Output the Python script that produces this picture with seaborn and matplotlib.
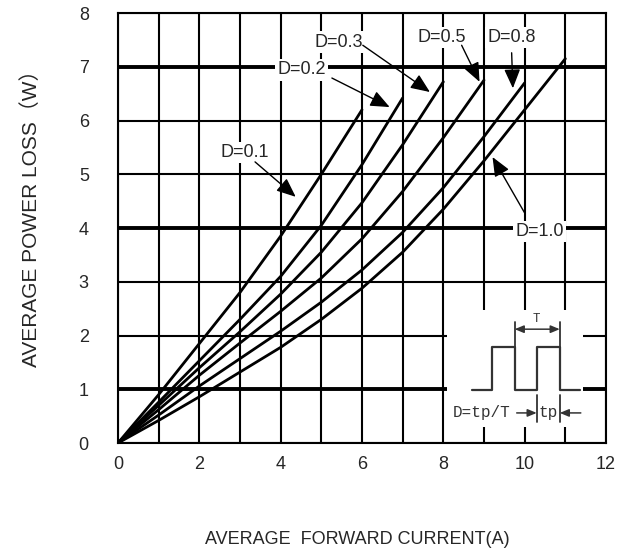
import matplotlib
matplotlib.use("Agg")
import matplotlib.pyplot as plt
import seaborn as sns
import pandas as pd

# ---------------- data ----------------
duty_labels = ["D=0.1", "D=0.2", "D=0.3", "D=0.5", "D=0.8", "D=1.0"]

current_d01 = [0, 1, 2, 3, 4, 5, 6]
loss_d01 = [0, 0.90, 1.85, 2.80, 3.85, 5.00, 6.20]

current_d02 = [0, 1, 2, 3, 4, 5, 6, 7]
loss_d02 = [0, 0.76, 1.53, 2.30, 3.10, 4.05, 5.18, 6.42]

current_d03 = [0, 1, 2, 3, 4, 5, 6, 7, 8]
loss_d03 = [0, 0.70, 1.40, 2.07, 2.77, 3.55, 4.47, 5.55, 6.72]

current_d05 = [0, 1, 2, 3, 4, 5, 6, 7, 8, 9]
loss_d05 = [0, 0.62, 1.26, 1.86, 2.45, 3.07, 3.80, 4.68, 5.68, 6.75]

current_d08 = [0, 1, 2, 3, 4, 5, 6, 7, 8, 9, 10]
loss_d08 = [0, 0.52, 1.06, 1.57, 2.08, 2.62, 3.22, 3.92, 4.75, 5.70, 6.70]

current_d10 = [0, 1, 2, 3, 4, 5, 6, 7, 8, 9, 10, 11]
loss_d10 = [0, 0.42, 0.86, 1.32, 1.78, 2.30, 2.88, 3.55, 4.35, 5.25, 6.20, 7.15]

x_ticks = [0, 1, 2, 3, 4, 5, 6, 7, 8, 9, 10, 11, 12]
x_tick_labels = ["0", "", "2", "", "4", "", "6", "", "8", "", "10", "", "12"]
y_ticks = [0, 1, 2, 3, 4, 5, 6, 7, 8]
y_tick_labels = ["0", "1", "2", "3", "4", "5", "6", "7", "8"]
bold_rows = [1, 4, 7]

x_label = "AVERAGE  FORWARD CURRENT(A)"
y_label = "AVERAGE POWER LOSS（W）"

# ---------------- table for seaborn ----------------
series = [
    (duty_labels[0], current_d01, loss_d01),
    (duty_labels[1], current_d02, loss_d02),
    (duty_labels[2], current_d03, loss_d03),
    (duty_labels[3], current_d05, loss_d05),
    (duty_labels[4], current_d08, loss_d08),
    (duty_labels[5], current_d10, loss_d10),
]
rows = []
for name, xs, ys in series:
    for xv, yv in zip(xs, ys):
        rows.append({"duty": name, "current": xv, "loss": yv})
df = pd.DataFrame(rows)

# ---------------- style ----------------
sns.set_style("white")
plt.rcParams["font.family"] = ["Liberation Sans", "Noto Sans CJK SC", "DejaVu Sans"]

fig = plt.figure(figsize=(6.23, 5.51), dpi=100)
ax = fig.add_axes([0.1894, 0.196, 0.7833, 0.7804])

sns.lineplot(data=df, x="current", y="loss", hue="duty",
             palette={d: "black" for d in duty_labels},
             legend=False, linewidth=2.0, ax=ax, zorder=3, sort=True,
             estimator=None)

ax.set_xlim(0, 12)
ax.set_ylim(0, 8)
ax.set_xticks(x_ticks)
ax.set_xticklabels(x_tick_labels, fontsize=13)
ax.set_yticks(y_ticks)
ax.set_yticklabels(y_tick_labels, fontsize=13)
ax.tick_params(axis="both", length=0)
ax.tick_params(axis="x", pad=9)
ax.tick_params(axis="y", pad=21)

ax.grid(True, color="black", linewidth=1.5, zorder=1)
ax.set_axisbelow(True)
for r in bold_rows:
    ax.axhline(r, color="black", linewidth=2.8, zorder=1.5)
for s in ax.spines.values():
    s.set_color("black")
    s.set_linewidth(1.5)

ax.set_xlabel(x_label, fontsize=13)
ax.xaxis.set_label_coords(0.49, -0.205)
ax.set_ylabel(y_label, fontsize=15)
ax.yaxis.set_label_coords(-0.158, 0.535)

# ---------------- annotations ----------------
label_pos = {
    "D=0.1": (3.12, 5.40), "D=0.2": (4.52, 6.94), "D=0.3": (5.43, 7.46),
    "D=0.5": (7.96, 7.55), "D=0.8": (9.68, 7.55), "D=1.0": (10.37, 3.93),
}
arrow_from = {
    "D=0.1": (3.37, 5.23), "D=0.2": (5.26, 6.79), "D=0.3": (6.02, 7.40),
    "D=0.5": (8.45, 7.40), "D=0.8": (9.68, 7.26), "D=1.0": (10.0, 4.28),
}
arrow_to = {
    "D=0.1": (4.37, 4.58), "D=0.2": (6.68, 6.25), "D=0.3": (7.67, 6.53),
    "D=0.5": (8.89, 6.72), "D=0.8": (9.71, 6.60), "D=1.0": (9.21, 5.32),
}
for name in duty_labels:
    tx, ty = label_pos[name]
    ax.text(tx, ty, name, fontsize=13, ha="center", va="center", zorder=6,
            bbox=dict(facecolor="white", edgecolor="none", pad=1.5))
    ax.annotate("", xy=arrow_to[name], xytext=arrow_from[name], zorder=6,
                arrowprops=dict(arrowstyle="-|>,head_length=0.9,head_width=0.38",
                                mutation_scale=13, color="black", lw=1.0,
                                shrinkA=0, shrinkB=0))

# ---------------- pulse inset ----------------
ins = ax.inset_axes([8.08, 0.30, 3.35, 2.17], transform=ax.transData, zorder=5)
ins.set_facecolor("white")
for s in ins.spines.values():
    s.set_visible(False)
ins.set_xticks([])
ins.set_yticks([])
ins.set_xlim(447, 583)
ins.set_ylim(427, 310)
pulse_x = [472, 492, 492, 515, 515, 537, 537, 560, 560, 580]
pulse_y = [390, 390, 347, 347, 390, 390, 347, 347, 390, 390]
gray = "#333333"
ins.plot(pulse_x, pulse_y, color=gray, lw=1.6)
ins.plot([515, 515], [322, 347], color=gray, lw=1.3)
ins.plot([560, 560], [322, 347], color=gray, lw=1.3)
ins.annotate("", xy=(515, 329), xytext=(560, 329),
             arrowprops=dict(arrowstyle="<|-|>,head_length=0.6,head_width=0.25",
                             mutation_scale=9, color=gray, lw=1.1, shrinkA=0, shrinkB=0))
ins.text(537, 319, "T", fontsize=9, ha="center", va="center",
         family="Liberation Mono", color=gray)
ins.plot([537, 537], [395, 422], color=gray, lw=1.3)
ins.plot([560, 560], [395, 422], color=gray, lw=1.3)
ins.annotate("", xy=(537, 413), xytext=(517, 413),
             arrowprops=dict(arrowstyle="-|>,head_length=0.6,head_width=0.25",
                             mutation_scale=9, color=gray, lw=1.1, shrinkA=0, shrinkB=0))
ins.annotate("", xy=(560, 413), xytext=(581, 413),
             arrowprops=dict(arrowstyle="-|>,head_length=0.6,head_width=0.25",
                             mutation_scale=9, color=gray, lw=1.1, shrinkA=0, shrinkB=0))
ins.text(548.5, 413, "tp", fontsize=11.5, ha="center", va="center",
         family="Liberation Mono", color=gray)
ins.text(482, 413, "D=tp/T", fontsize=11.5, ha="center", va="center",
         family="Liberation Mono", color=gray)

fig.savefig("out.png", dpi=100, facecolor="white")
